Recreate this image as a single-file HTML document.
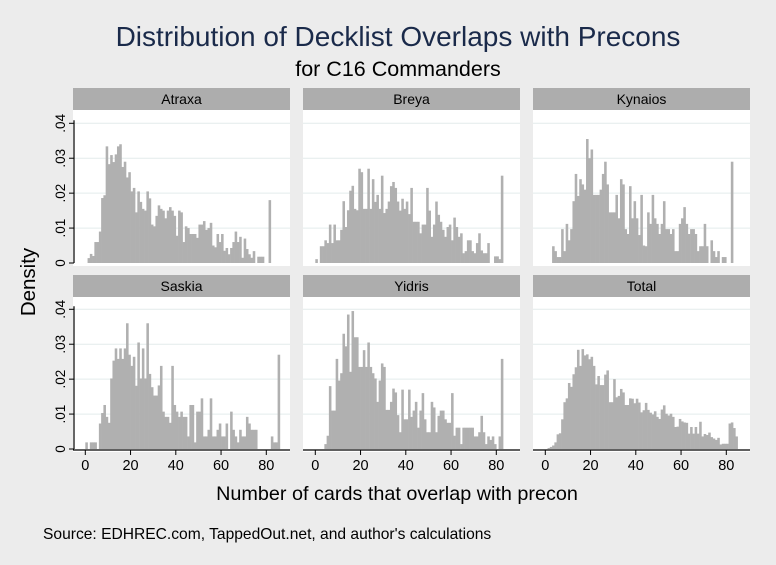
<!DOCTYPE html>
<html><head><meta charset="utf-8">
<style>
body{margin:0;background:#ececec;}
svg{display:block;font-family:"Liberation Sans",sans-serif;}
</style></head>
<body>
<svg id="c" width="776" height="565" viewBox="0 0 776 565">
<rect width="776" height="565" fill="#ececec"/>
<text x="398" y="46" text-anchor="middle" font-size="28" fill="#1a2a4a">Distribution of Decklist Overlaps with Precons</text>
<text x="398" y="76" text-anchor="middle" font-size="21.5" fill="#000">for C16 Commanders</text>
<text transform="translate(35,282) rotate(-90)" text-anchor="middle" font-size="20.5">Density</text>
<text x="397" y="500" text-anchor="middle" font-size="19.8">Number of cards that overlap with precon</text>
<text x="43" y="539" font-size="15.6">Source: EDHREC.com, TappedOut.net, and author's calculations</text>
<g id="panels"></g>
</svg>
<script>
const panelNames = ["Atraxa","Breya","Kynaios","Saskia","Yidris","Total"];
const panelStarts = [1,0,3,0,4,1];
const atraxa = [1.4,2.6,2.0,6,6,9,18.6,19.4,33.4,28.3,30.9,28.9,31.1,33.4,34,27.5,29,24.5,26,20.5,21.5,14.5,20.5,17.5,15.5,15,20.5,18.5,11,10.5,13.5,16.5,15.5,15,12.8,15,16,15,13.5,7.8,15,14.5,6,10.5,10,8.3,8.3,8.3,7.2,11,11,12,9.5,10,11.5,5,4.5,8.3,6,8.3,3.5,4.3,2.5,4.3,6,9,6,7.5,1.5,7,4,2.5,1.5,3.4,0,1.8,1.8,1.8,0,0,18];
const breya = [1.1,0,4.8,4.8,6.5,5.7,11,5.7,11,6.5,6.5,9.5,17.7,10.3,15.1,20.7,22.1,15.5,15.1,27,26,15.5,15.5,27,15.5,24,17.5,19.5,15.5,25,14.3,15.5,17.6,22,23.2,21.5,17.6,15,18.4,15.5,17.6,14,21.5,11.8,11.8,11.8,8.5,11,11,21.5,15,7.5,11,17.6,13.8,11.8,9.5,7.5,10.3,11,6.5,13,10.3,7.5,8.5,2.8,3.4,6.5,6.5,3.4,2.8,5.7,8.5,3.6,2.8,2.8,5.7,0,0,1.9,1.9,1.1,25];
const kynaios = [4.8,3.4,1.7,1.7,9.7,3.4,11.2,6.5,9.7,17.7,25.5,19.2,24,22.5,21,35.5,30,32.5,19.5,19.5,19.5,21,25.5,29,22.5,14.5,14.5,14.5,19.5,12.8,24,22.5,9.7,8.3,22,12.8,17.7,12.8,8,19.5,5,4.8,14.5,11.2,19.5,12.8,11.2,8.3,11.2,17.7,9.7,9.7,8.3,9.7,3.4,3.4,11.2,12.8,16,11.2,8.3,9.7,9.7,8.3,3.4,4.8,4.8,11.2,4.8,0,6.5,3.4,1.7,3.4,0,1.7,1.7,0,0,29];
const saskia = [1.9,0,1.9,1.9,1.9,0,7.3,10.3,12.6,9.2,7.5,20.2,25.3,28.8,25.8,28.8,25.8,28.8,36,27,23.8,26.4,18.1,30.5,20.2,28.8,20.2,36,21.5,17.7,15.3,15.3,18.2,23.8,10.7,9.2,9.2,7.5,23.8,12.6,10.7,9.2,10.7,9.2,9.2,3.6,12.6,12.6,1.9,10.7,10.7,14.5,3.6,3.6,5.5,14.5,3.6,3.6,5.5,7.3,3.6,3.6,7.3,0,10.7,5.5,3.6,1.9,5.5,3.6,3.6,9.2,7.3,5.5,5.5,5.5,0,0,0,0,0,0,3.6,1.9,1.9,27];
const yidris = [1.4,3.8,18,11,11,25.8,19.6,21.7,33,29.4,38.5,22.1,39.5,32,32,23.5,23.5,28.3,23.5,30.5,23.5,21.7,20.2,13.5,19.6,24.5,23.5,11.2,11.2,13.5,17.3,16.2,9.7,4.8,17,8.5,8.5,17,9.2,11,13.5,6.1,11,16,8.5,4.8,4.8,13.5,11.9,4.8,9.5,11,11,8.5,7.5,7.5,16,3.8,6.1,6.1,1.4,6.1,6.1,6.1,6.1,6.1,3.6,3.6,4.8,9.5,4.8,1.4,3.6,2.6,3.6,1.4,0,3.6,25.8];
const total = [0.3,0.6,1,1.9,4.2,4.5,8.5,13.4,14.5,18.9,17.8,21.4,23.4,28.4,23.8,28.6,26.8,27.1,25.7,26.4,23.8,18.5,20.9,18.3,18.3,21.3,22.5,13.4,13.4,20,14.8,15.2,17.2,16.2,12.6,12.6,14.5,14.4,13.1,14.4,13.3,10.5,11.1,13.2,11.2,10.4,9.9,10.8,9.2,8.6,11.3,12.5,10.1,9.6,10.1,9.2,6.3,6.4,8.6,7.9,7.6,7.5,4.4,6.3,4.4,6.3,4.4,7.8,3.6,4.3,4,4.7,3.4,3,2.6,3.2,1.3,1.5,1.5,1.5,7.3,7.6,6,3.6];
const xTicks = [0,20,40,60,80];
const yTicks = [0,0.01,0.02,0.03,0.04];
const yTickLabels = ["0",".01",".02",".03",".04"];

const series = [atraxa,breya,kynaios,saskia,yidris,total];
const NS = "http://www.w3.org/2000/svg";
const root = document.getElementById("panels");
function mk(tag, attrs, parent){const e=document.createElementNS(NS,tag);for(const k in attrs)e.setAttribute(k,attrs[k]);parent.appendChild(e);return e;}
const colLeft=[73,303,533], panelW=217;
const rowHead=[88,275], rowPlotTop=[110,297], rowZero=[263,449], rowTop=[123.3,309.3];
function xs(col,v){return colLeft[col]+12.3+v*2.2625;}
function ys(row,v){return rowZero[row]-(v/0.04)*(rowZero[row]-rowTop[row]);}

for(let p=0;p<6;p++){
  const col=p%3,row=Math.floor(p/3);
  const g=mk("g",{},root);
  
  
  const bg=mk("rect",{x:colLeft[col],y:rowPlotTop[row],width:panelW,height:rowZero[row]+3-rowPlotTop[row],fill:"#fff"},g);
  
  
  const hd=mk("rect",{x:colLeft[col],y:rowHead[row],width:panelW,height:22,fill:"#adadad"},g);
  
  
  const ht=mk("text",{x:colLeft[col]+panelW/2,y:rowHead[row]+16,"text-anchor":"middle","font-size":"14",fill:"#000"},g);
  ht.textContent=panelNames[p];
  
  
  for(let t=1;t<yTicks.length;t++){
    const gl=mk("line",{x1:colLeft[col],x2:colLeft[col]+panelW,y1:ys(row,yTicks[t]),y2:ys(row,yTicks[t]),stroke:"#e3ecec","stroke-width":1},g);
    
    
  }
  const data=series[p];
  for(let i=0;i<data.length;i++){
    const v=data[i]/1000; if(v<=0)continue;
    const x0=xs(col,panelStarts[p]+i), x1=xs(col,panelStarts[p]+i+1);
    const b=mk("rect",{x:x0,y:ys(row,v),width:x1-x0+0.3,height:rowZero[row]-ys(row,v),fill:"#b0b0b0"},g);
    
    
  }
  if(col===0){
    const ax=mk("line",{x1:colLeft[col]+1,x2:colLeft[col]+1,y1:rowTop[row]-3,y2:rowZero[row],stroke:"#000","stroke-width":1.2},g);
    
    
    for(let t=0;t<yTicks.length;t++){
      const y=ys(row,yTicks[t]);
      const tk=mk("line",{x1:colLeft[col]-4,x2:colLeft[col]+1,y1:y,y2:y,stroke:"#000","stroke-width":1},g);
      
      
      const tl=mk("text",{transform:`translate(${colLeft[col]-8},${y}) rotate(-90)`,"text-anchor":"middle","font-size":"13.5"},g);
      tl.textContent=yTickLabels[t];
      
      
    }
  }
  if(row===1){
    const ax=mk("line",{x1:colLeft[col],x2:colLeft[col]+panelW,y1:rowZero[row]+1,y2:rowZero[row]+1,stroke:"#000","stroke-width":1.2},g);
    
    
    for(const t of xTicks){
      const x=xs(col,t);
      const tk=mk("line",{x1:x,x2:x,y1:rowZero[row]+1,y2:rowZero[row]+6,stroke:"#000","stroke-width":1},g);
      
      
      const tl=mk("text",{x:x,y:rowZero[row]+21,"text-anchor":"middle","font-size":"14.5"},g);
      tl.textContent=String(t);
      
      
    }
  }
}
</script>
</body></html>
